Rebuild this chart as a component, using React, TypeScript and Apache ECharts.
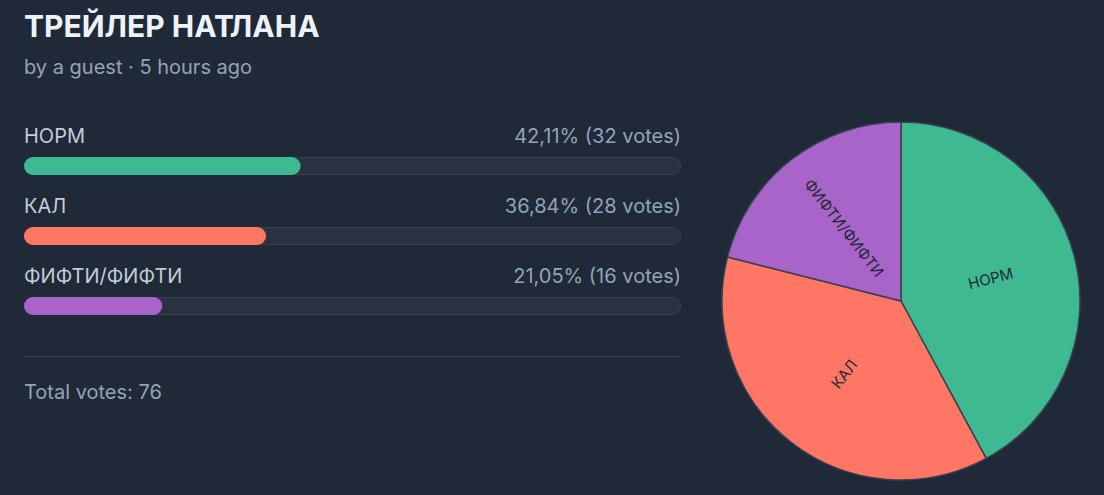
import React, { useEffect, useRef } from "react";
import * as echarts from "echarts";

const categories = ["НОРМ", "КАЛ", "ФИФТИ/ФИФТИ"];
const votes = [32, 28, 16];
const colors = ["#3fb991", "#ff7664", "#a964c9"];
const titleText = "ТРЕЙЛЕР НАТЛАНА";
const subText = "by a guest · 5 hours ago";

const total = votes.reduce((a, b) => a + b, 0);
const pct = votes.map((v) => (v / total) * 100);
const fmtPct = (p: number) => p.toFixed(2).replace(".", ",") + "%";

export default function App() {
  const ref = useRef<HTMLDivElement>(null);
  useEffect(() => {
    if (!ref.current) return;
    const chart = echarts.init(ref.current, null, { renderer: "svg" });
    const font = "Inter, 'Noto Sans', sans-serif";
    chart.setOption({
      animation: false,
      backgroundColor: "#1f2937",
      textStyle: { fontFamily: font },
      grid: { left: 24, width: 657, top: 131, height: 210 },
      xAxis: { type: "value", min: 0, max: 100, show: false },
      yAxis: { type: "category", data: categories, inverse: true, show: false },
      series: [
        {
          type: "bar",
          data: categories.map(() => 100),
          barWidth: 18,
          silent: true,
          itemStyle: { color: "#283241", borderColor: "#364152", borderWidth: 1, borderRadius: 9 },
          label: {
            show: true,
            position: ["100%", -21],
            align: "right",
            verticalAlign: "middle",
            color: "#94a3b8",
            fontSize: 20,
            fontFamily: font,
            formatter: (p: any) => `${fmtPct(pct[p.dataIndex])} (${votes[p.dataIndex]} votes)`,
          },
        },
        {
          type: "bar",
          barGap: "-100%",
          barWidth: 18,
          data: pct.map((v, i) => ({ value: v, itemStyle: { color: colors[i] } })),
          itemStyle: { borderRadius: 9 },
          label: {
            show: true,
            position: [0, -21],
            align: "left",
            verticalAlign: "middle",
            color: "#c3ccd8",
            fontSize: 20,
            fontFamily: font,
            formatter: (p: any) => categories[p.dataIndex],
          },
        },
        {
          type: "pie",
          center: [901, 301],
          radius: 179,
          startAngle: 90,
          clockwise: true,
          data: categories.map((c, i) => ({ name: c, value: votes[i], itemStyle: { color: colors[i] } })),
          itemStyle: { borderColor: "#374151", borderWidth: 1.5 },
          label: {
            show: true,
            position: "inside",
            rotate: "radial",
            color: "#1f2937",
            fontSize: 15,
            fontFamily: font,
            formatter: "{b}",
          },
          labelLine: { show: false },
          emphasis: { disabled: true },
        },
      ],
      graphic: [
        {
          type: "text",
          x: 24,
          y: 26,
          style: {
            text: titleText,
            fill: "#eef2f7",
            fontSize: 30,
            fontWeight: "bold",
            fontFamily: font,
            verticalAlign: "middle",
          },
        },
        {
          type: "text",
          x: 24,
          y: 67,
          style: {
            text: subText,
            fill: "#94a3b8",
            fontSize: 20,
            fontFamily: font,
            verticalAlign: "middle",
          },
        },
        {
          type: "line",
          shape: { x1: 24, y1: 356.5, x2: 681, y2: 356.5 },
          style: { stroke: "#374151", lineWidth: 1 },
        },
        {
          type: "text",
          x: 24,
          y: 392,
          style: {
            text: `Total votes: ${total}`,
            fill: "#94a3b8",
            fontSize: 20,
            fontFamily: font,
            verticalAlign: "middle",
          },
        },
      ],
    });
    return () => chart.dispose();
  }, []);
  return (
    <div
      ref={ref}
      style={{ position: "fixed", left: 0, top: 0, width: 1104, height: 495 }}
    />
  );
}
